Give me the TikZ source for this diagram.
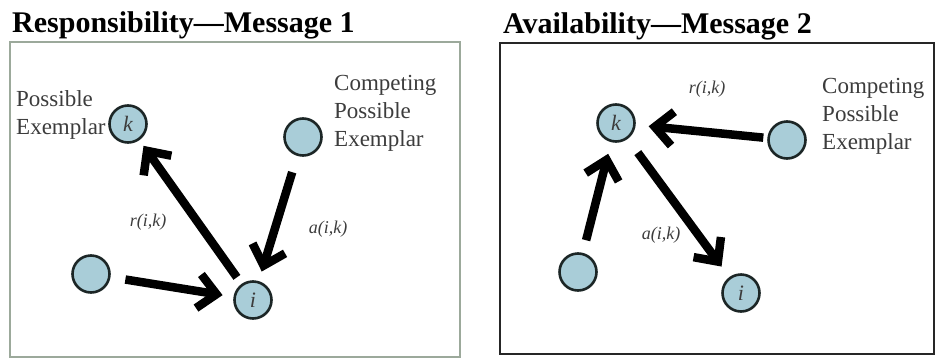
\documentclass[tikz,border=0pt]{standalone}
\usepackage{fontspec}
\setmainfont{Liberation Serif}
\usepackage{xcolor}
\usetikzlibrary{arrows.meta,positioning}
\definecolor{nodeblue}{HTML}{A9CDD8}
\definecolor{rimdark}{HTML}{1C2626}
\definecolor{textgray}{HTML}{3C3C3C}
\definecolor{panelgreen}{HTML}{9CA99B}

\begin{document}
\begin{tikzpicture}[
  x=1pt, y=-1pt,
  nd/.style={circle, draw=rimdark, fill=nodeblue, line width=2.6pt, minimum size=37pt, inner sep=0pt, font=\fontsize{22}{22}\selectfont\itshape\color{textgray}},
  flow/.style={-{Straight Barb[length=18pt,width=34pt]}, line width=8.5pt, black},
  lbl/.style={align=left, anchor=north west, inner sep=0pt, text=textgray, font=\fontsize{23}{28}\selectfont},
  msg/.style={inner sep=0pt, text=textgray, font=\fontsize{18}{18}\selectfont\itshape},
  title/.style={anchor=base west, inner sep=0pt, font=\fontsize{30}{30}\selectfont\bfseries}
]
  \useasboundingbox (0,0) rectangle (936,359);

  % left panel: responsibility
  \node[title] (t1) at (12,32) {Responsibility---Message 1};
  \draw[panelgreen, line width=1.5pt] (10,42) rectangle (460,357);
  \node[nd] (k1) at (128,124) {k};
  \node[nd] (c1) at (303,137) {};
  \node[nd] (b1) at (91,274) {};
  \node[nd] (i1) at (253,300) {i};
  \node[lbl] (p1) at (16,90) {Possible\\Exemplar};
  \node[lbl] (q1) at (334,75) {Competing\\Possible\\Exemplar};
  \node[msg] (r1) at (148,222) {r(i,k)};
  \node[msg] (a1) at (328,229) {a(i,k)};
  \draw[flow, shorten <=8pt, shorten >=7pt] (i1) -- (k1);
  \draw[flow, shorten <=17pt, shorten >=10pt] (c1) -- (i1);
  \draw[flow, shorten <=15pt, shorten >=11pt] (b1) -- (i1);

  % right panel: availability
  \node[title] (t2) at (503,33) {Availability---Message 2};
  \draw[black!85, line width=1.8pt] (500,43) rectangle (934,354);
  \node[nd] (k2) at (616,123) {k};
  \node[nd] (c2) at (787,140) {};
  \node[nd] (b2) at (578,272) {};
  \node[nd] (i2) at (741,293) {i};
  \node[lbl] (q2) at (822,78) {Competing\\Possible\\Exemplar};
  \node[msg] (r2) at (707,89) {r(i,k)};
  \node[msg] (a2) at (661,235) {a(i,k)};
  \draw[flow, shorten <=4pt, shorten >=13pt] (c2) -- (k2);
  \draw[flow, shorten <=13pt, shorten >=12pt] (b2) -- (k2);
  \draw[flow, shorten <=17pt, shorten >=13pt] (k2) -- (i2);
\end{tikzpicture}
\end{document}
